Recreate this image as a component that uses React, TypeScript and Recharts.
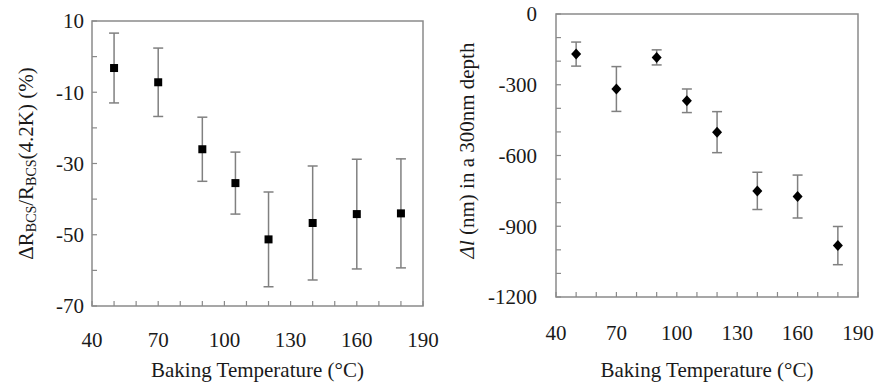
import React from 'react';
import { ScatterChart, Scatter, XAxis, YAxis, ErrorBar, ReferenceArea, Label, Text } from 'recharts';

const TEMPS = [50, 70, 90, 105, 120, 140, 160, 180];
const RBCS_CHANGE = [-3.2, -7.2, -26.0, -35.5, -51.3, -46.7, -44.2, -44.0];
const RBCS_ERR = [9.8, 9.6, 9.0, 8.7, 13.3, 16.0, 15.4, 15.3];
const DELTA_L = [-170, -318, -184, -368, -501, -750, -774, -982];
const DELTA_L_ERR = [51, 95, 32, 50, 87, 79, 91, 81];

const X_TICKS = [40, 50, 60, 70, 80, 90, 100, 110, 120, 130, 140, 150, 160, 170, 180, 190];
const X_LABELS = [40, 70, 100, 130, 160, 190];
const LEFT_Y_TICKS = [-70, -60, -50, -40, -30, -20, -10, 0, 10];
const LEFT_Y_LABELS = [-70, -50, -30, -10, 10];
const RIGHT_Y_TICKS = [-1200, -1100, -1000, -900, -800, -700, -600, -500, -400, -300, -200, -100, 0];
const RIGHT_Y_LABELS = [-1200, -900, -600, -300, 0];

const FONT = '"Liberation Serif", "Times New Roman", serif';
const TEXT_COLOR = '#1a1a1a';
const FRAME = '#8a8a8a';

const leftData = TEMPS.map((t, i) => ({ t, v: RBCS_CHANGE[i], err: RBCS_ERR[i] }));
const rightData = TEMPS.map((t, i) => ({ t, v: DELTA_L[i], err: DELTA_L_ERR[i] }));

function makeTick(labels: number[]) {
  return (props: any) => {
    const { x, y, payload, textAnchor, verticalAnchor } = props;
    if (!labels.includes(payload.value)) return <g />;
    return (
      <Text x={x} y={y} textAnchor={textAnchor} verticalAnchor={verticalAnchor}
        fontSize={21} fontFamily={FONT} fill={TEXT_COLOR}>
        {String(payload.value)}
      </Text>
    );
  };
}

const squareShape = (p: any) => <rect x={p.cx - 4} y={p.cy - 4} width={8} height={8} fill="#000" />;
const diamondShape = (p: any) => (
  <polygon points={`${p.cx},${p.cy - 5.5} ${p.cx + 5},${p.cy} ${p.cx},${p.cy + 5.5} ${p.cx - 5},${p.cy}`} fill="#000" />
);

const xTitle = (dy: number) => ({ viewBox }: any) => {
  const cx = viewBox.x + viewBox.width / 2;
  return (
    <text x={cx} y={viewBox.y + dy} textAnchor="middle" dominantBaseline="central"
      fontSize={21} fontFamily={FONT} fill={TEXT_COLOR}>
      Baking Temperature (°C)
    </text>
  );
};

const leftYTitle = ({ viewBox }: any) => {
  const cx = viewBox.x + 26;
  const cy = viewBox.y + viewBox.height / 2;
  return (
    <text x={cx} y={cy} transform={`rotate(-90 ${cx} ${cy})`} textAnchor="middle" dominantBaseline="central"
      fontSize={21} fontFamily={FONT} fill={TEXT_COLOR}>
      <tspan>ΔR</tspan>
      <tspan fontSize={14} dy={5}>BCS</tspan>
      <tspan dy={-5}>/R</tspan>
      <tspan fontSize={14} dy={5}>BCS</tspan>
      <tspan dy={-5}>(4.2K) (%)</tspan>
    </text>
  );
};

const rightYTitle = ({ viewBox }: any) => {
  const cx = viewBox.x + 27;
  const cy = viewBox.y + viewBox.height / 2 - 5;
  return (
    <text x={cx} y={cy} transform={`rotate(-90 ${cx} ${cy})`} textAnchor="middle" dominantBaseline="central"
      fontSize={21} fontFamily={FONT} fill={TEXT_COLOR}>
      <tspan fontStyle="italic">Δl</tspan>
      <tspan> (nm) in a 300nm depth</tspan>
    </text>
  );
};

export default function App() {
  return (
    <div style={{ position: 'absolute', left: 0, top: 0, width: 876, height: 386, background: '#fff' }}>
      <div style={{ position: 'absolute', left: 0, top: 0 }}>
        <ScatterChart width={440} height={386} margin={{ top: 21, right: 17, bottom: 0, left: 0 }}>
          <XAxis type="number" dataKey="t" domain={[40, 190]} ticks={X_TICKS} interval={0}
            height={80} axisLine={false} tickSize={-5} tickMargin={31}
            tickLine={{ stroke: FRAME, strokeWidth: 1.2 }} tick={makeTick(X_LABELS)}>
            <Label content={xTitle(64)} />
          </XAxis>
          <YAxis type="number" dataKey="v" domain={[-70, 10]} ticks={LEFT_Y_TICKS} interval={0}
            width={92} axisLine={false} tickSize={-5} tickMargin={13}
            tickLine={{ stroke: FRAME, strokeWidth: 1.2 }} tick={makeTick(LEFT_Y_LABELS)}>
            <Label content={leftYTitle} />
          </YAxis>
          <ReferenceArea x1={40} x2={190} y1={-70} y2={10} fill="none" stroke={FRAME} strokeWidth={1.5}
            ifOverflow="visible" />
          <Scatter data={leftData} shape={squareShape} isAnimationActive={false}>
            <ErrorBar dataKey="err" direction="y" width={5} stroke="#808080" strokeWidth={1.5} />
          </Scatter>
        </ScatterChart>
      </div>
      <div style={{ position: 'absolute', left: 440, top: 0 }}>
        <ScatterChart width={436} height={386} margin={{ top: 14, right: 18, bottom: 0, left: 0 }}>
          <XAxis type="number" dataKey="t" domain={[40, 190]} ticks={X_TICKS} interval={0}
            height={89} axisLine={false} tickSize={-5} tickMargin={33}
            tickLine={{ stroke: FRAME, strokeWidth: 1.2 }} tick={makeTick(X_LABELS)}>
            <Label content={xTitle(73)} />
          </XAxis>
          <YAxis type="number" dataKey="v" domain={[-1200, 0]} ticks={RIGHT_Y_TICKS} interval={0}
            width={116} axisLine={false} tickSize={-5} tickMargin={24}
            tickLine={{ stroke: FRAME, strokeWidth: 1.2 }} tick={makeTick(RIGHT_Y_LABELS)}>
            <Label content={rightYTitle} />
          </YAxis>
          <ReferenceArea x1={40} x2={190} y1={-1200} y2={0} fill="none" stroke={FRAME} strokeWidth={1.5}
            ifOverflow="visible" />
          <Scatter data={rightData} shape={diamondShape} isAnimationActive={false}>
            <ErrorBar dataKey="err" direction="y" width={5} stroke="#808080" strokeWidth={1.5} />
          </Scatter>
        </ScatterChart>
      </div>
    </div>
  );
}
